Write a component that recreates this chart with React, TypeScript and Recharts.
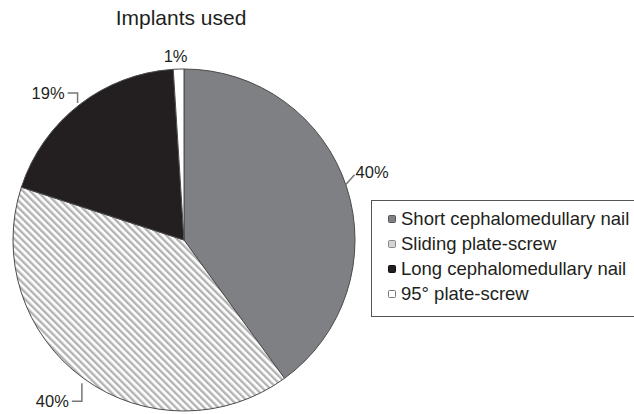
import React from "react";
import { PieChart, Pie, Cell, Legend } from "recharts";

const categories = [
  "Short cephalomedullary nail",
  "Sliding plate-screw",
  "Long cephalomedullary nail",
  "95° plate-screw",
];
const values = [40, 40, 19, 1];
const fills = ["#7f8083", "url(#hatch)", "#231f20", "#ffffff"];
const markerFills = ["#7f8083", "#d4d4d4", "#231f20", "#ffffff"];
const markerStrokes = ["#555555", "#888888", "#111111", "#777777"];

const data = categories.map((name, i) => ({ name, value: values[i] }));

const RAD = Math.PI / 180;
const FONT = "'Liberation Sans', Arial, Helvetica, sans-serif";

const renderLabel = (props: any) => {
  const { cx, cy, midAngle, outerRadius, percent, index } = props;
  const cos = Math.cos(-midAngle * RAD);
  const sin = Math.sin(-midAngle * RAD);
  const sx = cx + (outerRadius + 1) * cos;
  const sy = cy + (outerRadius + 1) * sin;
  const txt = `${Math.round(percent * 100)}%`;
  const style = { fontFamily: FONT, fontSize: 16.5, fill: "#231f20" } as any;
  if (Math.abs(cos) < 0.2) {
    return (
      <text key={index} x={sx - 3} y={sy - 12} textAnchor="middle" dominantBaseline="central" style={style}>
        {txt}
      </text>
    );
  }
  if (cos > 0) {
    const sx2 = sx - 2;
    const sy2 = sy - 2;
    const ex = sx2 + 9;
    const ey = sy2 - 10;
    return (
      <g key={index}>
        <polyline points={`${sx2},${sy2} ${ex},${ey}`} fill="none" stroke="#777" strokeWidth={1.5} />
        <text x={ex + 1} y={ey - 3} textAnchor="start" dominantBaseline="central" style={style}>
          {txt}
        </text>
      </g>
    );
  }
  const vx = sx - 1;
  const vy = sy + (sin > 0 ? 4 : -1);
  const ey = sin > 0 ? vy + 18 : vy - 10;
  const ex = vx - 10;
  return (
    <g key={index}>
      <polyline points={`${vx},${vy} ${vx},${ey} ${ex},${ey}`} fill="none" stroke="#777" strokeWidth={1.5} />
      <text x={ex - 3} y={ey} textAnchor="end" dominantBaseline="central" style={style}>
        {txt}
      </text>
    </g>
  );
};

const renderLegend = () => (
  <div
    style={{
      width: 290,
      height: 117,
      border: "1px solid #555",
      boxSizing: "border-box",
      fontFamily: FONT,
      fontSize: 18.5,
      color: "#231f20",
      padding: "5px 0 0 16px",
    }}
  >
    {categories.map((c, i) => (
      <div key={c} style={{ display: "flex", alignItems: "center", height: 25, whiteSpace: "nowrap" }}>
        <span
          style={{
            display: "inline-block",
            width: 6,
            height: 6,
            background: markerFills[i],
            border: `1px solid ${markerStrokes[i]}`,
            borderRadius: 1.5,
            marginRight: 5,
          }}
        />
        <span>{c}</span>
      </div>
    ))}
  </div>
);

export default function App() {
  return (
    <div style={{ position: "relative", width: 634, height: 414, background: "#fff", overflow: "hidden" }}>
      <style>{`body{margin:0}`}</style>
      <div
        style={{
          position: "absolute",
          left: 0,
          top: 6,
          width: 362,
          textAlign: "center",
          fontFamily: FONT,
          fontSize: 21,
          color: "#231f20",
        }}
      >
        Implants used
      </div>
      <PieChart width={634} height={414} margin={{ top: 0, right: 0, bottom: 0, left: 0 }}>
        <defs>
          <pattern id="hatch" patternUnits="userSpaceOnUse" width="5" height="5" patternTransform="rotate(-45)">
            <rect x="0" y="0" width="5" height="5" fill="#ffffff" />
            <rect x="0" y="0" width="2.4" height="5" fill="#b3b3b3" />
          </pattern>
        </defs>
        <Pie
          data={data}
          dataKey="value"
          nameKey="name"
          cx={184}
          cy={240}
          outerRadius={171}
          startAngle={90}
          endAngle={-270}
          stroke="#4a4a4a"
          strokeWidth={1}
          label={renderLabel}
          labelLine={false}
          isAnimationActive={false}
        >
          {data.map((d, i) => (
            <Cell key={d.name} fill={fills[i]} />
          ))}
        </Pie>
        <Legend
          content={renderLegend}
          wrapperStyle={{ position: "absolute", left: 371, top: 200, width: 290, height: 117 }}
        />
      </PieChart>
    </div>
  );
}
